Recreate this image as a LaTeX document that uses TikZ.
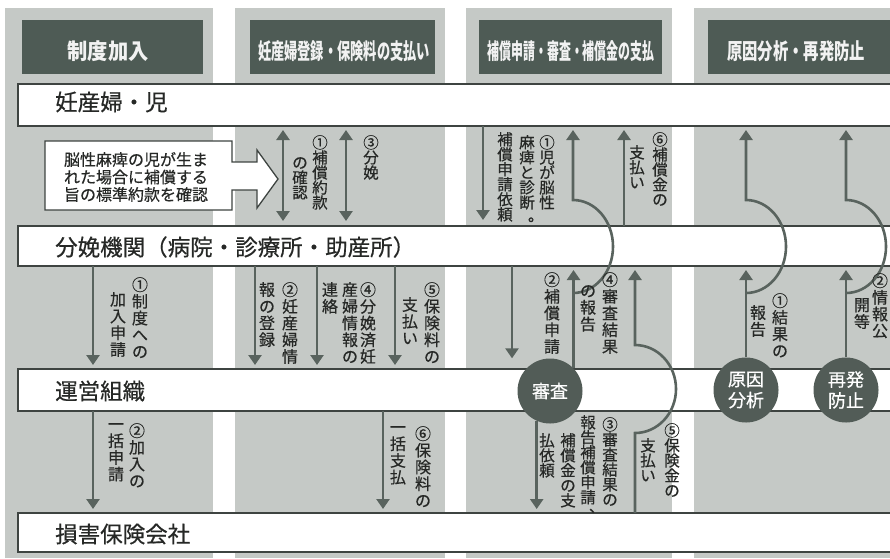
\documentclass[tikz,border=0pt]{standalone}
\usepackage{fontspec}
\usepackage{graphicx}
\setmainfont{Noto Sans CJK JP}
\newfontfamily\medjp{Noto Sans CJK JP}[FakeBold=0.5]
\usetikzlibrary{arrows.meta}
\definecolor{colgray}{HTML}{C5C9C6}
\definecolor{hdr}{HTML}{4E5B55}
\definecolor{arrc}{HTML}{59635E}
\definecolor{bline}{HTML}{3E4441}
\definecolor{txt}{HTML}{262826}
\definecolor{circ}{HTML}{525C57}
\definecolor{hdrtxt}{HTML}{F2F2F2}
\newcommand{\vpunct}[2]{\raisebox{#1}[0pt][0pt]{\makebox[0pt][l]{\hspace{1pt}#2}}}
\newcommand{\tightlines}{\lineskiplimit=-30pt\relax\lineskip=0pt\relax}
\begin{document}
\begin{tikzpicture}[x=1pt,y=-1pt,
  arr/.style={draw=arrc, line width=2.6pt, -{Triangle[width=13pt,length=10pt]}, shorten >=4pt},
  darr/.style={draw=arrc, line width=2.6pt, {Triangle[width=13pt,length=10pt]}-{Triangle[width=13pt,length=10pt]}, shorten >=5pt, shorten <=4pt},
  band/.style={draw=bline, fill=white, line width=1.6pt, inner sep=0pt, outer sep=0pt, anchor=north west, minimum width=900pt},
  blabel/.style={anchor=west, inner sep=0pt, text=txt, font={\medjp\fontsize{22.5}{26}\selectfont}},
  vlab/.style={anchor=north, align=center, inner sep=0pt, text=txt, font={\medjp\fontsize{16}{16.7}\selectfont\tightlines}},
  vlabt/.style={vlab, font={\medjp\fontsize{15.5}{15}\selectfont\tightlines}},
  hdrbox/.style={fill=hdr, inner sep=0pt, outer sep=0pt, anchor=north west, minimum height=54pt},
  hdrtext/.style={inner sep=0pt, text=hdrtxt, font=\fontsize{22}{24}\selectfont\bfseries},
  circnode/.style={circle, fill=circ, minimum size=65pt, inner sep=0pt, text=white, align=center, font={\medjp\fontsize{18}{21}\selectfont\tightlines}},
  callout/.style={draw=bline, fill=white, line width=1.3pt, line join=miter},
  calltext/.style={align=center, inner sep=0pt, text=txt, font={\medjp\fontsize{16}{17.5}\selectfont\tightlines}}
]
\useasboundingbox (0,0) rectangle (890,558);
\clip (0,0) rectangle (890,558);
% gray columns
\fill[colgray] (5,8) rectangle (213,558);
\fill[colgray] (235,8) rectangle (445,558);
\fill[colgray] (466,8) rectangle (672,558);
\fill[colgray] (694,8) rectangle (890,558);
% headers
\node[hdrbox, minimum width=181pt] (h1) at (22,20) {};
\node[hdrbox, minimum width=185pt] (h2) at (250,20) {};
\node[hdrbox, minimum width=183pt] (h3) at (479,20) {};
\node[hdrbox, minimum width=200pt] (h4) at (708,20) {};
\node[hdrtext] (h1t) at (108,51) {\resizebox{81pt}{\height}{制度加入}};
\node[hdrtext] (h2t) at (344,51) {\resizebox{172pt}{\height}{妊産婦登録・保険料の支払い}};
\node[hdrtext] (h3t) at (571,51) {\resizebox{167pt}{\height}{補償申請・審査・補償金の支払}};
\node[hdrtext] (h4t) at (796,51) {\resizebox{138pt}{\height}{原因分析・再発防止}};
% bands
\node[band, minimum height=42pt] (b1) at (18,84) {};
\node[band, minimum height=40pt] (b2) at (18,226) {};
\node[band, minimum height=42pt] (b3) at (18,369) {};
\node[band, minimum height=39pt] (b4) at (18,513) {};
\node[blabel] (t1) at (55,102) {妊産婦・児};
\node[blabel] (t2) at (55,247) {分娩機関（病院・診療所・助産所）};
\node[blabel] (t3) at (55,391) {運営組織};
\node[blabel] (t4) at (55,534) {損害保険会社};
% callout
\draw[callout] (45,141) -- (232,141) -- (232,162) -- (257,162) -- (257,150) -- (278,179) -- (257,208) -- (257,190) -- (232,190) -- (232,210) -- (45,210) -- cycle;
\node[calltext] (ct) at (136,177) {脳性麻痺の児が生ま\\れた場合に補償する\\旨の標準約款を確認};
% circles
\node[circnode] (sinsa) at (550,391) {審査};
\node[circnode] (gen) at (746,390) {原因\\分析};
\node[circnode] (sai) at (846,390) {再発\\防止};
% junction coordinates
\coordinate (j4) at (573,293);
\coordinate (j5) at (635,433);
\coordinate (j6) at (746,293);
\coordinate (j7) at (846,293);
% column 1 arrows
\draw[arr] (93,0 |- b2.south) -- (93,0 |- b3.north);
\draw[arr] (93,0 |- b3.south) -- (93,0 |- b4.north);
% column 2 arrows
\draw[darr] (283,0 |- b1.south) -- (283,0 |- b2.north);
\draw[darr] (346,0 |- b1.south) -- (346,0 |- b2.north);
\draw[arr] (255,0 |- b2.south) -- (255,0 |- b3.north);
\draw[arr] (317,0 |- b2.south) -- (317,0 |- b3.north);
\draw[arr] (395,0 |- b2.south) -- (395,0 |- b3.north);
\draw[arr] (383,0 |- b3.south) -- (383,0 |- b4.north);
% column 3 arrows
\draw[arr, shorten >=6pt] (483,0 |- b1.south) -- (483,0 |- b2.north);
\draw[arr, shorten >=0pt] (512,0 |- b2.south) -- (512,0 |- sinsa.north);
\draw[arr] (sinsa.44) -- (sinsa.44 |- b2.south);
\draw[arr] (j4) arc[start angle=90, end angle=-90, x radius=40, y radius=46.5] -- (j4 |- b1.south);
\draw[arr] (624,0 |- b2.north) -- (624,0 |- b1.south);
\draw[arr] (sinsa.-114) -- (sinsa.-114 |- b4.north);
\draw[arr] (j5 |- b4.north) -- (j5) arc[start angle=90, end angle=-90, x radius=41, y radius=44] -- (j5 |- b2.south);
% column 4 arrows
\draw[arr] (gen.north) -- (gen.north |- b2.south);
\draw[arr] (j6) arc[start angle=90, end angle=-90, x radius=40, y radius=46.5] -- (j6 |- b1.south);
\draw[arr] (sai.north) -- (sai.north |- b2.south);
\draw[arr] (j7) arc[start angle=90, end angle=-90, x radius=40, y radius=46.5] -- (j7 |- b1.south);
% labels column 1
\node[vlab] (l1a) at (140,277) {①\\制\\度\\へ\\の};
\node[vlab] (l1b) at (118,292) {加\\入\\申\\請};
\node[vlab] (l2a) at (137,423) {②\\加\\入\\の};
\node[vlab] (l2b) at (116,423) {一\\括\\申\\請};
% labels column 2
\node[vlabt] (l3a) at (320,135) {①\\補\\償\\約\\款};
\node[vlabt] (l3b) at (300,157) {の\\確\\認};
\node[vlabt] (l4) at (371,135) {③\\分\\娩};
\node[vlab] (l5a) at (290,282) {②\\妊\\産\\婦\\情};
\node[vlab] (l5b) at (267,282) {報\\の\\登\\録};
\node[vlab] (l6a) at (368,282) {④\\分\\娩\\済\\妊};
\node[vlab] (l6b) at (350,282) {産\\婦\\情\\報\\の};
\node[vlab] (l6c) at (330,282) {連\\絡};
\node[vlab] (l7a) at (432,282) {⑤\\保\\険\\料\\の};
\node[vlab] (l7b) at (410,297) {支\\払\\い};
\node[vlab] (l8a) at (423,426) {⑥\\保\\険\\料\\の};
\node[vlab] (l8b) at (398,426) {一\\括\\支\\払};
% labels column 3
\node[vlabt] (l9a) at (547,135) {①\\児\\が\\脳\\性};
\node[vlabt] (l9b) at (527,135) {麻\\痺\\と\\診\\断\\\vpunct{2pt}{。}};
\node[vlabt] (l9c) at (505,132) {補\\償\\申\\請\\依\\頼};
\node[vlabt] (l10a) at (660,132) {⑥\\補\\償\\金\\の};
\node[vlabt] (l10b) at (637,145) {支\\払\\い};
\node[vlab] (l11) at (552,272) {②\\補\\償\\申\\請};
\node[vlab] (l12a) at (610,272) {④\\審\\査\\結\\果};
\node[vlab] (l12b) at (588,285) {の\\報\\告};
\node[vlabt] (l13a) at (610,417) {③\\審\\査\\結\\果\\の};
\node[vlabt] (l13b) at (588,415) {報\\告\\補\\償\\申\\請\\\vpunct{6pt}{、}};
\node[vlabt] (l13c) at (568,433) {補\\償\\金\\の\\支};
\node[vlabt] (l13d) at (547,433) {払\\依\\頼};
\node[vlabt] (l14a) at (672,423) {⑤\\保\\険\\金\\の};
\node[vlabt] (l14b) at (648,438) {支\\払\\い};
% labels column 4
\node[vlab] (l15a) at (780,293) {①\\結\\果\\の};
\node[vlab] (l15b) at (758,305) {報\\告};
\node[vlab] (l16a) at (880,273) {②\\情\\報\\公};
\node[vlab] (l16b) at (862,298) {開\\等};
\end{tikzpicture}
\end{document}
